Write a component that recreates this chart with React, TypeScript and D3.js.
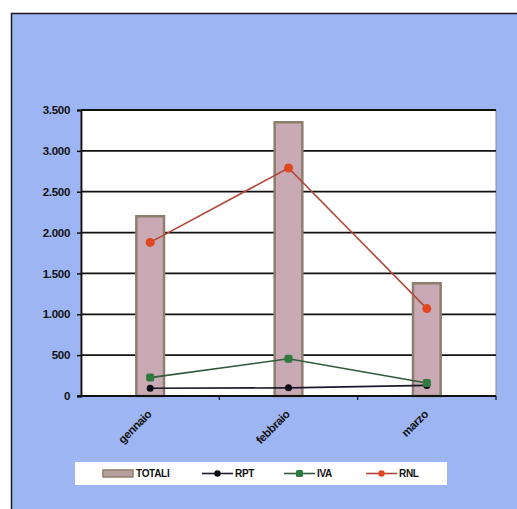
import React, { useRef, useEffect } from 'react';
import * as d3 from 'd3';

const months = ['gennaio', 'febbraio', 'marzo'];
const totali = [2200, 3350, 1380];
const rpt = [95, 100, 130];
const iva = [225, 455, 160];
const rnl = [1880, 2790, 1070];
const yTicks = [0, 500, 1000, 1500, 2000, 2500, 3000, 3500];

const W = 517;
const H = 509;

const lineSeries = [
  { name: 'RPT', values: rpt, line: '#1a1a2a', dot: '#0a0a14', shape: 'circle' },
  { name: 'IVA', values: iva, line: '#2f5a3c', dot: '#2e7a3e', shape: 'square' },
  { name: 'RNL', values: rnl, line: '#b0483c', dot: '#e2461e', shape: 'circle' },
];

const App: React.FC = () => {
  const svgRef = useRef<SVGSVGElement>(null);

  useEffect(() => {
    if (!svgRef.current) return;
    document.body.style.margin = '0';
    const svg = d3.select(svgRef.current);
    svg.selectAll('*').remove();

    const margin = { top: 110, right: 21, bottom: 113, left: 81 };
    const font = '"Liberation Sans", Arial, sans-serif';

    // page + chart area
    svg.append('rect').attr('width', W).attr('height', H).attr('fill', '#ffffff');
    svg.append('rect')
      .attr('x', 11).attr('y', 13)
      .attr('width', W - 11).attr('height', H - 13)
      .attr('fill', '#9db6f3');
    svg.append('path')
      .attr('d', `M11.5,${H} V13.5 H${W}`)
      .attr('fill', 'none')
      .attr('stroke', '#1a1a1a')
      .attr('stroke-width', 1.5);

    const x = d3.scaleBand()
      .domain(months)
      .range([margin.left, W - margin.right])
      .padding(0);

    const y = d3.scaleLinear()
      .domain([0, 3500])
      .range([H - margin.bottom, margin.top]);

    // plot background
    svg.append('rect')
      .attr('x', margin.left).attr('y', margin.top)
      .attr('width', W - margin.right - margin.left)
      .attr('height', H - margin.bottom - margin.top)
      .attr('fill', '#ffffff')
      .attr('stroke', '#8a8a8a')
      .attr('stroke-width', 1);

    // grid lines
    svg.append('g')
      .selectAll('line')
      .data(yTicks.filter(t => t > 0))
      .join('line')
      .attr('x1', margin.left).attr('x2', W - margin.right)
      .attr('y1', d => y(d)).attr('y2', d => y(d))
      .attr('stroke', '#111111')
      .attr('stroke-width', 1.8);

    // bars
    const barW = x.bandwidth() * 0.2;
    svg.append('g')
      .selectAll('rect')
      .data(months)
      .join('rect')
      .attr('x', (d) => x(d)! + x.bandwidth() / 2 - barW / 2)
      .attr('y', (_d, i) => y(totali[i]))
      .attr('width', barW)
      .attr('height', (_d, i) => y(0) - y(totali[i]))
      .attr('fill', '#c9a9b3')
      .attr('stroke', '#8c7f6c')
      .attr('stroke-width', 2.5);

    // y axis
    const yAxis = svg.append('g')
      .attr('transform', `translate(${margin.left},0)`)
      .call(d3.axisLeft(y).tickValues(yTicks).tickSize(4).tickPadding(7)
        .tickFormat(d => d3.format(',')(d as number).replace(/,/g, '.')));
    yAxis.select('.domain').attr('stroke', '#111111').attr('stroke-width', 1.8);
    yAxis.selectAll('.tick line').attr('stroke', '#111111').attr('stroke-width', 1.5);
    yAxis.selectAll('.tick text')
      .attr('fill', '#111111')
      .attr('font-family', font)
      .attr('font-weight', 'bold')
      .attr('font-size', '11.5px')
      .attr('letter-spacing', '-0.3px');

    // x axis
    const xAxis = svg.append('g')
      .attr('transform', `translate(0,${y(0)})`);
    xAxis.append('line')
      .attr('x1', margin.left - 4).attr('x2', W - margin.right)
      .attr('stroke', '#111111').attr('stroke-width', 1.8);
    xAxis.selectAll('line.tk')
      .data(months.slice(1))
      .join('line')
      .attr('class', 'tk')
      .attr('x1', d => x(d)!).attr('x2', d => x(d)!)
      .attr('y1', 0).attr('y2', 4)
      .attr('stroke', '#111111').attr('stroke-width', 1.2);
    xAxis.append('line')
      .attr('x1', W - margin.right).attr('x2', W - margin.right)
      .attr('y1', 0).attr('y2', 4)
      .attr('stroke', '#111111').attr('stroke-width', 1.2);
    xAxis.selectAll('text')
      .data(months)
      .join('text')
      .attr('transform', d => `translate(${x(d)! + x.bandwidth() / 2 + 2},${19}) rotate(-45)`)
      .attr('text-anchor', 'end')
      .attr('fill', '#111111')
      .attr('font-family', font)
      .attr('font-weight', 'bold')
      .attr('font-size', '11.5px')
      .attr('letter-spacing', '-0.4px')
      .text(d => d);

    // line series
    const cx = (m: string) => x(m)! + x.bandwidth() / 2;
    lineSeries.forEach(s => {
      const line = d3.line<number>()
        .x((_v, i) => cx(months[i]))
        .y(v => y(v));
      svg.append('path')
        .datum(s.values)
        .attr('d', line)
        .attr('fill', 'none')
        .attr('stroke', s.line)
        .attr('stroke-width', 1.6);
      const g = svg.append('g');
      s.values.forEach((v, i) => {
        if (s.shape === 'square') {
          g.append('rect')
            .attr('x', cx(months[i]) - 4).attr('y', y(v) - 4)
            .attr('width', 8).attr('height', 8)
            .attr('rx', 2)
            .attr('fill', s.dot);
        } else {
          g.append('circle')
            .attr('cx', cx(months[i])).attr('cy', y(v))
            .attr('r', s.name === 'RNL' ? 4.5 : 3.5)
            .attr('fill', s.dot);
        }
      });
    });

    // legend
    const legend = svg.append('g').attr('transform', 'translate(75,462)');
    legend.append('rect')
      .attr('width', 372).attr('height', 23)
      .attr('fill', '#ffffff');
    const ly = 11.5;
    const items = [
      { name: 'TOTALI', x0: 28 },
      ...lineSeries.map((s, i) => ({ name: s.name, x0: [127, 209, 291][i] })),
    ];
    items.forEach(item => {
      const s = lineSeries.find(l => l.name === item.name);
      if (!s) {
        legend.append('rect')
          .attr('x', item.x0).attr('y', ly - 3.5)
          .attr('width', 30).attr('height', 7)
          .attr('fill', '#b8a0a0')
          .attr('stroke', '#8c7f6c')
          .attr('stroke-width', 1.5);
      } else {
        legend.append('line')
          .attr('x1', item.x0).attr('x2', item.x0 + 31)
          .attr('y1', ly).attr('y2', ly)
          .attr('stroke', s.line).attr('stroke-width', 1.6);
        if (s.shape === 'square') {
          legend.append('rect')
            .attr('x', item.x0 + 15.5 - 3.5).attr('y', ly - 3.5)
            .attr('width', 7).attr('height', 7).attr('rx', 1.5)
            .attr('fill', s.dot);
        } else {
          legend.append('circle')
            .attr('cx', item.x0 + 15.5).attr('cy', ly)
            .attr('r', 3.2).attr('fill', s.dot);
        }
      }
      legend.append('text')
        .attr('x', item.x0 + 33).attr('y', ly)
        .attr('dy', '0.35em')
        .attr('fill', '#111111')
        .attr('font-family', font)
        .attr('font-weight', 'bold')
        .attr('font-size', '10px')
        .attr('letter-spacing', '-0.3px')
        .text(item.name);
    });
  }, []);

  return (
    <svg
      ref={svgRef}
      width={W}
      height={H}
      style={{ position: 'absolute', left: 0, top: 0, display: 'block' }}
    />
  );
};

export default App;
